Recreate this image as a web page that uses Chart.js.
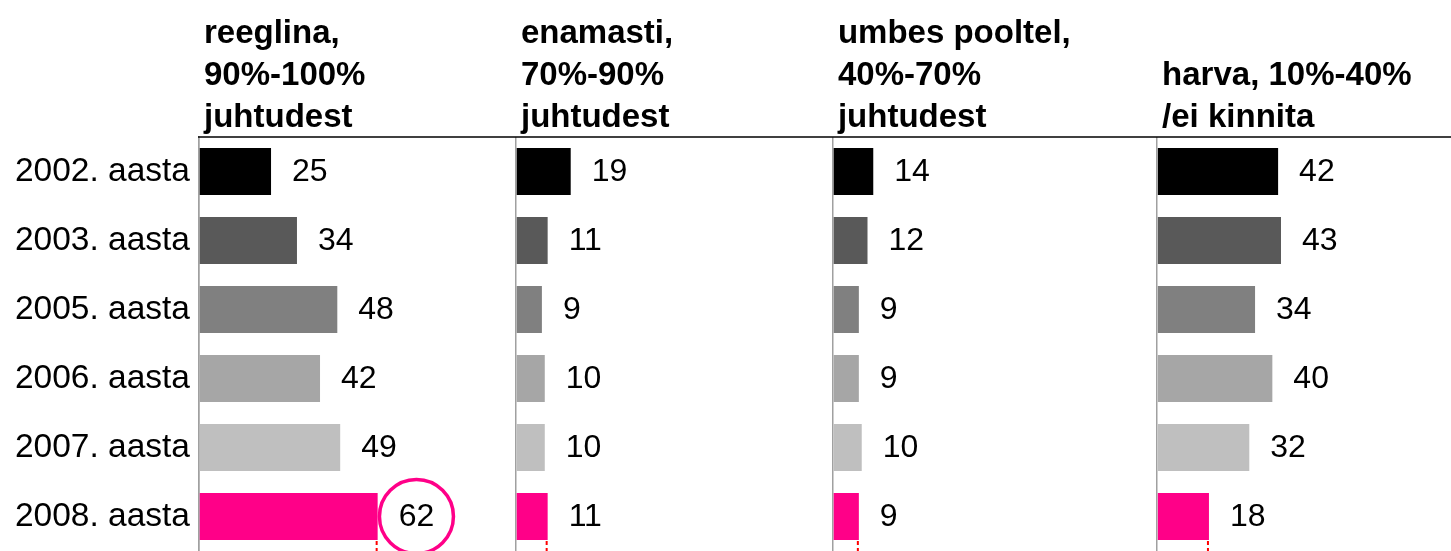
<!DOCTYPE html>
<html><head><meta charset="utf-8">
<script src="https://cdn.jsdelivr.net/npm/chart.js@4"></script>
<style>html,body{margin:0;padding:0;background:#fff;overflow:hidden}</style>
</head><body>
<canvas id="c" width="1451" height="551"></canvas>
<script>
const categories = ['2002. aasta','2003. aasta','2005. aasta','2006. aasta','2007. aasta','2008. aasta'];
const panelHeaders = [
  ['reeglina,','90%-100%','juhtudest'],
  ['enamasti,','70%-90%','juhtudest'],
  ['umbes pooltel,','40%-70%','juhtudest'],
  ['','harva, 10%-40%','/ei kinnita']
];
const seriesReeglina = [25,34,48,42,49,62];
const seriesEnamasti = [19,11,9,10,10,11];
const seriesPooltel  = [14,12,9,9,10,9];
const seriesHarva    = [42,43,34,40,32,18];
const panelMax = [110,110,112.5,102];
const yearColors = ['#000000','#595959','#808080','#a6a6a6','#bfbfbf','#ff0088'];
const highlighted = {panel:0, index:5};

const FONT = '"Liberation Sans", Arial, Helvetica, sans-serif';
const panels = [seriesReeglina, seriesEnamasti, seriesPooltel, seriesHarva];

const datasets = panels.map((d,i)=>({
  label: panelHeaders[i].join(' ').trim(),
  data: d,
  xAxisID: 'x'+i,
  backgroundColor: yearColors,
  borderWidth: 0,
  barPercentage: 0.68,
  categoryPercentage: 1,
  grouped: false
}));

const scales = {
  y: {
    type:'category', position:'left',
    grid:{display:false, drawTicks:false},
    border:{display:true, color:'#a0a0a0', width:1.5},
    ticks:{color:'#000', font:{family:FONT, size:33.5}, padding:9},
    afterFit(s){ s.width = 199; s.paddingTop = 0; s.paddingBottom = 0; }
  }
};
panels.forEach((d,i)=>{
  scales['x'+i] = {
    type:'linear', position:'bottom', stack:'panels', stackWeight: panelMax[i],
    min:0, max:panelMax[i],
    ticks:{display:false},
    grid:{drawTicks:false, lineWidth:1.5,
      color: c => (c.tick && c.tick.value===0) ? '#a0a0a0' : 'rgba(0,0,0,0)'},
    border:{display:false}
  };
});

const decor = {
  id:'decor',
  afterDatasetsDraw(chart){
    const ctx = chart.ctx, ca = chart.chartArea;
    ctx.save();
    // top rule
    ctx.strokeStyle='#000'; ctx.lineWidth=1.5;
    ctx.beginPath(); ctx.moveTo(ca.left-1, ca.top); ctx.lineTo(chart.width, ca.top); ctx.stroke();
    // headers
    ctx.fillStyle='#000'; ctx.textAlign='left'; ctx.textBaseline='alphabetic';
    ctx.font = 'bold 33px '+FONT;
    panels.forEach((d,i)=>{
      const sc = chart.scales['x'+i];
      panelHeaders[i].forEach((line,j)=>{ ctx.fillText(line, sc.left+5, ca.top - 94 + j*42); });
    });
    // value labels, marks
    ctx.font = '32px '+FONT; ctx.textBaseline='middle';
    panels.forEach((d,i)=>{
      const meta = chart.getDatasetMeta(i);
      meta.data.forEach((el,k)=>{
        const txt = String(d[k]);
        const x = el.x + 21, y = el.y + 1;
        if (highlighted.panel===i && highlighted.index===k){
          const w = ctx.measureText(txt).width;
          ctx.beginPath(); ctx.arc(x + w/2, el.y, 37, 0, Math.PI*2);
          ctx.fillStyle='#fff'; ctx.fill();
          ctx.lineWidth=3.5; ctx.strokeStyle=yearColors[5]; ctx.stroke();
        }
        ctx.fillStyle='#000';
        ctx.fillText(txt, x, y);
      });
      // small red marks under last bar end
      const last = meta.data[meta.data.length-1];
      ctx.save();
      ctx.strokeStyle='#ff0000'; ctx.lineWidth=2; ctx.setLineDash([4,3]);
      ctx.beginPath(); ctx.moveTo(last.x-1, last.y + last.height/2 + 1); ctx.lineTo(last.x-1, chart.height); ctx.stroke();
      ctx.restore();
    });
    ctx.restore();
  }
};

new Chart(document.getElementById('c'), {
  type:'bar',
  data:{ labels: categories, datasets },
  options:{
    indexAxis:'y',
    responsive:false, animation:false, devicePixelRatio:1,
    layout:{padding:{top:137, bottom:0, left:0, right:0}},
    plugins:{legend:{display:false}, tooltip:{enabled:false}},
    scales
  },
  plugins:[decor]
});
</script>
</body></html>
